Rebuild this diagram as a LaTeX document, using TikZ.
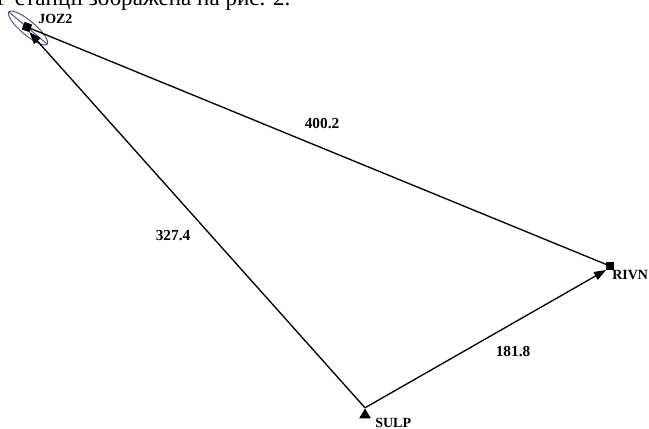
\documentclass[tikz,border=0pt]{standalone}
\usepackage{fontspec}
\setmainfont{Liberation Serif}
\usetikzlibrary{arrows.meta,shapes.geometric}
\definecolor{ellc}{RGB}{70,80,120}
\begin{document}
\begin{tikzpicture}[x=0.75pt,y=-0.75pt,
  sq/.style={draw=none,fill=black,minimum size=6pt,inner sep=0pt,outer sep=0pt},
  tri/.style={regular polygon,regular polygon sides=3,fill=black,minimum size=10pt,inner sep=0pt},
  stlab/.style={font=\bfseries\fontsize{10.5pt}{12pt}\selectfont,inner sep=0pt},
  edlab/.style={font=\bfseries\fontsize{11.5pt}{13pt}\selectfont,inner sep=0pt},
  conn/.style={line width=1pt,black},
  arr/.style={conn,-{Triangle[length=9pt,width=6.5pt]}}]
\useasboundingbox (0,0) rectangle (649,428);
\clip (0,0) rectangle (649,428);
% top, cut-off text line
\node[anchor=base west,inner sep=0pt,font=\fontsize{17.3pt}{19pt}\selectfont] (toptext) at (-4,6) {Р станції зображена на рис. 2.};
% error ellipse at JOZ2
\draw[ellc,line width=0.7pt] plot[domain=0:360,samples=72,smooth cycle]
  ({28+25*cos(\x)*cos(40)-7*sin(\x)*sin(40)},{28+25*cos(\x)*sin(40)+7*sin(\x)*cos(40)});
\draw[ellc,line width=0.7pt] ({28-25*cos(40)},{28-25*sin(40)}) -- ({28+25*cos(40)},{28+25*sin(40)});
% stations
\node[sq,rotate=-20] (joz) at (27,27) {};
\node[sq] (rivn) at (610,266) {};
\node[tri] (sulp) at (365,415) {};
% station labels
\node[stlab,anchor=base west] (lj) at (38,24) {JOZ2};
\node[stlab,anchor=base west] (lr) at (612,279) {RIVN};
\node[stlab,anchor=base west] (ls) at (375,427) {SULP};
% connectors
\draw[conn] (rivn.center) -- (joz.center);
\draw[arr] (sulp.north) -- (joz.south east);
\draw[arr] (sulp.north) -- (rivn.south west);
% distance labels
\node[edlab] (d1) at (322,124) {400.2};
\node[edlab] (d2) at (173,236) {327.4};
\node[edlab] (d3) at (513,352) {181.8};
\end{tikzpicture}
\end{document}
